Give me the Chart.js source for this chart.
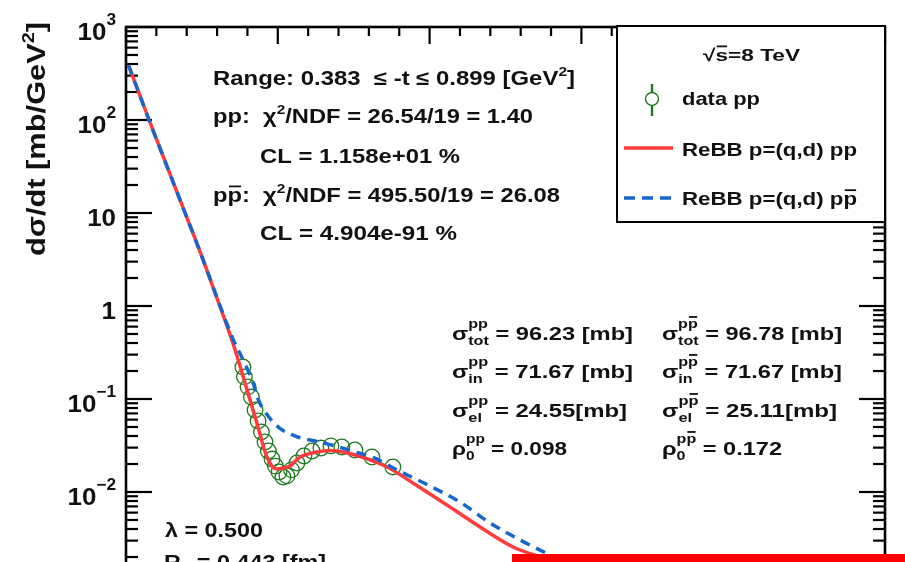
<!DOCTYPE html>
<html><head><meta charset="utf-8">
<script src="https://cdn.jsdelivr.net/npm/chart.js@4"></script>
<style>
html,body{margin:0;padding:0;background:#fff;overflow:hidden;}
#wrap{position:relative;width:905px;height:562px;overflow:hidden;background:#fff;}
#c{position:absolute;left:0;top:0;}
#bar{position:absolute;left:512px;top:554px;width:393px;height:8px;background:#ff0000;}
</style></head><body>
<div id="wrap"><canvas id="c" width="905" height="830"></canvas><div id="bar"></div></div>
<script>
// ---- data ----
const dataT = [0.385,0.390,0.402,0.413,0.425,0.435,0.446,0.458,0.469,0.481,0.492,0.504,0.517,0.530,0.545,0.563,0.586,0.613,0.642,0.675,0.711,0.754,0.810,0.879];
const dataV = [0.221,0.173,0.135,0.105,0.0762,0.058,0.0442,0.0345,0.0276,0.0226,0.0190,0.0164,0.0145,0.0149,0.0173,0.0205,0.0244,0.0276,0.0297,0.0313,0.0305,0.0283,0.0238,0.0186];

const ppT = [0.008,0.076,0.178,0.250,0.310,0.352,0.392,0.431,0.464,0.481,0.497,0.517,0.540,0.573,0.629,0.672,0.715,0.787,0.860,0.945,1.057,1.166,1.275,1.374];
const ppV = [390,100,13.8,3.4,0.975,0.400,0.149,0.0552,0.0238,0.0190,0.01766,0.0181,0.0190,0.0238,0.0269,0.0279,0.0269,0.0232,0.0186,0.0125,0.00724,0.00421,0.00256,0.00195];

const pbarT = [0.008,0.076,0.178,0.250,0.310,0.354,0.386,0.419,0.435,0.468,0.507,0.562,0.623,0.688,0.744,0.814,0.892,1.001,1.100,1.199,1.298,1.397];
const pbarV = [390,100,13.8,3.4,1.0,0.43,0.262,0.148,0.100,0.0656,0.0484,0.0394,0.0353,0.0313,0.0276,0.0235,0.0173,0.0116,0.0078,0.00465,0.00305,0.0021];

const xRange = [0, 2.5];
const yRange = [1e-5, 1e3];
const yLabelExps = [3,2,1,0,-1,-2,-3,-4,-5];

const FONT = '"Liberation Sans", Arial, Helvetica, sans-serif';
const TXT = '#111';

function setF(ctx,s){ctx.font='bold '+s+'px '+FONT;}
function segW(ctx,s,base){
  if (s.stack) return Math.max(...s.stack.map(l=>segsWidth(ctx,l,base)));
  setF(ctx,s.size||base); return ctx.measureText(s.t).width;
}
function segsWidth(ctx,segs,base){let w=0;for(const s of segs)w+=segW(ctx,s,base);return w;}
function drawSegs(ctx,segs,base,x0){
  let cx=x0;
  for(const s of segs){
    if(s.stack){for(const l of s.stack)drawSegs(ctx,l,base,cx);cx+=segW(ctx,s,base);continue;}
    const sz=s.size||base;setF(ctx,sz);
    const w=ctx.measureText(s.t).width;
    const dy=s.dy||0;
    ctx.fillText(s.t,cx,dy);
    if(s.bar){const by=dy+(s.barY!=null?s.barY:-0.8)*sz;ctx.fillRect(cx+0.06*sz,by-0.9,w-0.1*sz,1.8);}
    cx+=w;
  }
  return cx-x0;
}
function rich(ctx,segs,x,y,base,opt){
  opt=opt||{};
  const w=segsWidth(ctx,segs,base);
  let sx=opt.sx||1; if(opt.end!=null) sx=(opt.end-x)/w;
  let x0=x; if(opt.align==='right') x0=x-w*sx;
  ctx.save();ctx.translate(x0,y);ctx.scale(sx,1);
  ctx.textBaseline='alphabetic';ctx.textAlign='left';ctx.fillStyle=opt.color||TXT;
  drawSegs(ctx,segs,base,0);ctx.restore();
}
function ln(ctx,x1,y1,x2,y2){ctx.beginPath();ctx.moveTo(x1,y1);ctx.lineTo(x2,y2);ctx.stroke();}

const framePlugin = {
  id:'frame',
  beforeDatasetsDraw(chart){
    const {ctx,chartArea:a,scales:{x,y}}=chart;
    ctx.save();ctx.strokeStyle='#000';ctx.lineCap='butt';
    ctx.lineWidth=2.2;
    const eMin=Math.round(Math.log10(yRange[0])), eMax=Math.round(Math.log10(yRange[1]));
    for(let e=eMin;e<=eMax;e++){
      for(let k=1;k<=9;k++){
        if(e===eMax&&k>1)break;
        const py=y.getPixelForValue(k*Math.pow(10,e));
        const len=k===1?26:12;
        ln(ctx,a.left,py,a.left+len,py);
        ln(ctx,a.right,py,a.right-len,py);
      }
    }
    for(let i=0;i<=25;i++){
      const px=x.getPixelForValue(i*0.1);
      const len=(i%5===0)?17:9;
      ln(ctx,px,a.top,px,a.top+len);
      ln(ctx,px,a.bottom,px,a.bottom-len);
    }
    ctx.lineWidth=2.6;
    ctx.strokeRect(a.left,a.top,a.right-a.left,a.bottom-a.top);
    ctx.restore();
  },
  afterDatasetsDraw(chart){
    const {ctx,chartArea:a,scales:{y}}=chart;
    ctx.save();
    // y tick labels
    for(const e of yLabelExps){
      const py=y.getPixelForValue(Math.pow(10,e));
      let segs;
      if(e===0) segs=[{t:'1'}];
      else if(e===1) segs=[{t:'10'}];
      else segs=[{t:'10'},{t:(e<0?'\u2212':'')+Math.abs(e),size:16,dy:-15}];
      rich(ctx,segs,116,py+13,24,{sx:1.08,align:'right'});
    }
    // y title
    ctx.save();ctx.translate(45,256);ctx.rotate(-Math.PI/2);
    rich(ctx,[{t:'d\u03c3/dt [mb/GeV'},{t:'2',size:16,dy:-11},{t:']'}],0,0,25,{end:234});
    ctx.restore();

    // fit info
    const sup2={t:'2',size:13,dy:-9};
    rich(ctx,[{t:'Range: 0.383  \u2264 -t \u2264 0.899 [GeV'},sup2,{t:']'}],213,85,20,{end:575});
    rich(ctx,[{t:'pp:  \u03c7'},sup2,{t:'/NDF = 26.54/19 = 1.40'}],213,123,20,{end:533});
    rich(ctx,[{t:'CL = 1.158e+01 %'}],260,163,20,{end:460});
    rich(ctx,[{t:'p'},{t:'p',bar:true,barY:-0.78},{t:':  \u03c7'},sup2,{t:'/NDF = 495.50/19 = 26.08'}],213,202,20,{end:560});
    rich(ctx,[{t:'CL = 4.904e-91 %'}],260,240,20,{end:457});

    // cross sections
    const S=13;
    const ppS=[{t:'pp',size:S,dy:-12}];
    const pbS=[{t:'p',size:S,dy:-12},{t:'p',size:S,dy:-12,bar:true,barY:-0.85}];
    const sub=(t)=>[{t:t,size:S,dy:5}];
    const rows=[
      [340,'tot',' = 96.23 [mb]',633,' = 96.78 [mb]',842,'\u03c3'],
      [378,'in',' = 71.67 [mb]',633,' = 71.67 [mb]',842,'\u03c3'],
      [417,'el',' = 24.55[mb]',627,' = 25.11[mb]',837,'\u03c3'],
      [455,'0',' = 0.098',567,' = 0.172',782,'\u03c1']
    ];
    for(const r of rows){
      rich(ctx,[{t:r[6]},{stack:[ppS,sub(r[1])]},{t:r[2]}],452,r[0],19,{end:r[3]});
      rich(ctx,[{t:r[6]},{stack:[pbS,sub(r[1])]},{t:r[4]}],662,r[0],19,{end:r[5]});
    }
    // model params
    rich(ctx,[{t:'\u03bb = 0.500'}],165,537,21,{end:263});
    rich(ctx,[{t:'R'},{t:'q',size:14,dy:6},{t:' = 0.443 [fm]'}],164,569,21,{end:326});

    // legend box
    const L={x1:617,y1:26,x2:885,y2:222};
    ctx.fillStyle='#fff';ctx.fillRect(L.x1,L.y1,L.x2-L.x1,L.y2-L.y1);
    ctx.strokeStyle='#000';ctx.lineWidth=2;ctx.strokeRect(L.x1,L.y1,L.x2-L.x1,L.y2-L.y1);
    rich(ctx,[{t:'\u221a'},{t:'s',bar:true,barY:-0.86},{t:'=8 TeV'}],703,61,17,{end:800});
    // data marker
    ctx.strokeStyle='#1f7a1f';ctx.lineWidth=1.4;
    ctx.beginPath();ctx.arc(652,99,6.5,0,Math.PI*2);ctx.stroke();
    ctx.lineWidth=2.4;ln(ctx,652,84,652,92.5);ln(ctx,652,105.5,652,116);
    rich(ctx,[{t:'data pp'}],682,105,19,{end:760});
    ctx.strokeStyle='#ff3b3b';ctx.lineWidth=3.5;ln(ctx,624,148,673,148);
    rich(ctx,[{t:'ReBB p=(q,d) pp'}],682,156,19,{end:857});
    ctx.strokeStyle='#1766d0';ctx.setLineDash([11,7]);ln(ctx,624,198,672,198);ctx.setLineDash([]);
    rich(ctx,[{t:'ReBB p=(q,d) p'},{t:'p',bar:true,barY:-0.78}],682,205,19,{end:857});
    ctx.restore();
  }
};

const toPts=(xs,ys)=>xs.map((v,i)=>({x:v,y:ys[i]}));

new Chart(document.getElementById('c'),{
  type:'scatter',
  data:{datasets:[
    {label:'ReBB p=(q,d) pbar', data:toPts(pbarT,pbarV), showLine:true, borderColor:'#1766d0', borderWidth:3.5, borderDash:[10,7], pointRadius:0, order:0, cubicInterpolationMode:'monotone', fill:false},
    {label:'ReBB p=(q,d) pp', data:toPts(ppT,ppV), showLine:true, borderColor:'#ff3b3b', borderWidth:3.5, pointRadius:0, order:1, cubicInterpolationMode:'monotone', fill:false},
    {label:'data pp', data:toPts(dataT,dataV), showLine:false, pointRadius:7.8, pointStyle:'circle', pointBorderColor:'#1f7a1f', pointBackgroundColor:'rgba(0,0,0,0)', pointBorderWidth:1.3, order:2}
  ]},
  options:{
    responsive:false, animation:false, devicePixelRatio:1,
    layout:{padding:{left:126,top:27,right:20,bottom:59}},
    scales:{
      x:{type:'linear',min:xRange[0],max:xRange[1],display:false},
      y:{type:'logarithmic',min:yRange[0],max:yRange[1],display:false}
    },
    plugins:{legend:{display:false},tooltip:{enabled:false}}
  },
  plugins:[framePlugin]
});
</script>
</body></html>
